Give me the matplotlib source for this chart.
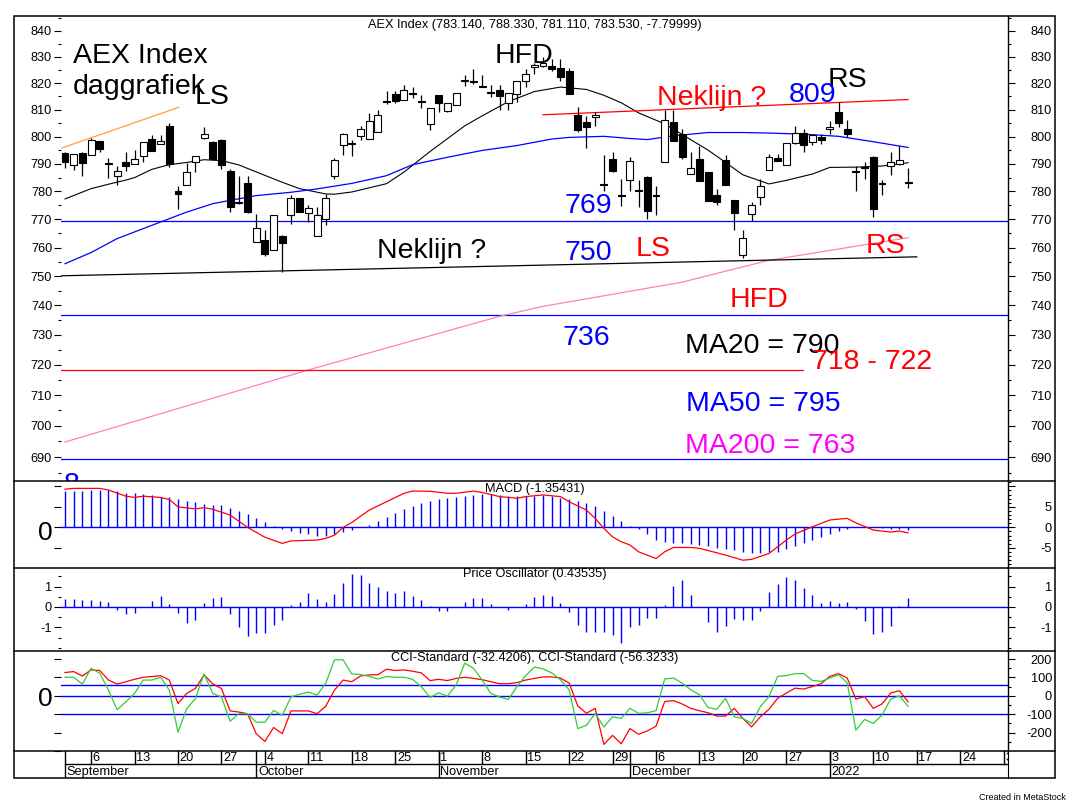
import numpy as np
import pandas as pd
import matplotlib
matplotlib.use("Agg")
import matplotlib.pyplot as plt
from matplotlib.lines import Line2D
from matplotlib.patches import Rectangle
from matplotlib.ticker import NullFormatter

plt.rcParams['font.family'] = ['Liberation Sans', 'DejaVu Sans']

# === 1. Data ===
dates = pd.bdate_range("2021-09-01", "2022-01-14")
future = pd.bdate_range("2022-01-17", "2022-01-31")

opens = [793.8, 789.7, 793.8, 793.3, 798.4, 790.2, 785.7, 790.8, 790.0, 793.0,
         799.1, 797.4, 804.1, 780.3, 782.4, 790.8, 799.4, 798.1, 798.8, 787.5,
         776.3, 783.1, 762.0, 762.6, 759.3, 764.1, 771.6, 777.6, 772.1, 764.1,
         770.0, 785.4, 796.9, 797.3, 800.3, 799.1, 801.6, 812.8, 815.7, 813.6,
         816.3, 813.2, 804.6, 815.4, 809.4, 811.7, 820.8, 820.8, 819.0, 816.5,
         817.3, 812.4, 815.7, 820.9, 826.0, 826.5, 826.5, 825.9, 824.6, 808.0,
         805.5, 807.3, 782.6, 791.8, 778.7, 784.2, 780.5, 785.3, 778.7, 790.5,
         805.5, 800.9, 786.3, 791.8, 787.2, 778.8, 791.5, 777.0, 757.6, 772.0,
         777.9, 787.9, 792.2, 789.4, 797.6, 801.5, 798.1, 799.8, 802.8, 809.0,
         802.8, 787.4, 788.9, 792.4, 782.6, 789.1, 790.0, 783.14]
highs = [794.5, 793.6, 794.5, 799.3, 798.4, 792.3, 789.3, 794.5, 795.2, 798.1,
         800.7, 800.6, 805.0, 781.9, 790.2, 793.0, 803.6, 798.4, 799.0, 788.0,
         785.7, 785.7, 771.8, 766.1, 771.6, 764.6, 778.6, 777.6, 775.0, 774.4,
         779.2, 792.0, 801.3, 798.8, 804.1, 808.6, 809.9, 817.1, 817.1, 819.4,
         818.6, 815.4, 810.8, 815.4, 812.6, 816.1, 822.9, 825.3, 823.0, 819.4,
         819.4, 816.3, 820.9, 825.3, 827.8, 830.0, 829.1, 829.1, 825.6, 811.0,
         807.8, 809.0, 793.3, 794.3, 784.5, 792.4, 784.0, 785.7, 782.1, 809.7,
         809.7, 802.8, 794.3, 796.4, 787.2, 780.9, 793.3, 777.0, 766.1, 776.1,
         784.5, 793.6, 793.6, 797.8, 804.1, 802.8, 800.7, 800.9, 805.9, 813.0,
         806.2, 789.3, 790.5, 792.7, 784.2, 794.3, 796.4, 788.33]
lows = [788.4, 787.9, 785.7, 793.3, 794.3, 784.7, 782.5, 787.5, 790.0, 790.5,
        794.6, 797.4, 788.7, 773.8, 782.4, 787.0, 799.0, 791.5, 788.0, 772.8,
        775.5, 772.4, 762.0, 757.1, 759.3, 751.5, 768.4, 772.6, 769.0, 764.1,
        768.0, 784.6, 793.3, 793.0, 798.8, 799.1, 801.6, 812.1, 812.6, 813.6,
        814.2, 810.6, 802.3, 809.0, 809.0, 811.7, 818.9, 819.5, 818.4, 814.6,
        809.7, 809.9, 813.0, 818.6, 823.4, 826.0, 824.6, 820.9, 815.7, 801.7,
        795.7, 804.1, 780.3, 786.9, 774.8, 780.3, 774.4, 770.0, 771.4, 790.5,
        798.3, 791.8, 786.3, 783.6, 776.5, 775.2, 782.4, 766.1, 756.4, 769.3,
        775.0, 787.9, 790.9, 789.4, 797.2, 794.3, 796.9, 797.2, 800.9, 803.5,
        799.8, 780.3, 784.6, 770.8, 778.8, 786.0, 789.4, 781.11]
closes = [790.5, 793.6, 790.3, 798.8, 795.5, 789.8, 787.5, 789.1, 791.8, 798.1,
          794.6, 798.5, 790.0, 779.2, 786.9, 793.0, 800.9, 791.8, 789.4, 774.4,
          775.8, 772.6, 767.0, 757.7, 771.6, 761.7, 777.6, 772.6, 774.1, 771.6,
          777.8, 791.4, 800.9, 797.7, 802.8, 805.6, 808.0, 813.2, 813.2, 817.3,
          815.9, 812.8, 810.8, 812.4, 812.4, 816.1, 821.2, 820.4, 818.6, 816.3,
          815.0, 816.3, 820.9, 823.4, 826.8, 827.5, 825.5, 822.5, 815.7, 802.6,
          803.5, 808.0, 782.2, 787.5, 778.3, 791.2, 780.1, 773.1, 778.3, 806.2,
          798.3, 792.4, 788.5, 783.6, 776.5, 776.1, 782.4, 772.2, 763.5, 775.2,
          782.1, 792.4, 790.9, 797.8, 801.5, 797.0, 800.7, 798.8, 803.6, 805.0,
          801.0, 787.0, 788.5, 773.8, 783.0, 790.5, 791.5, 783.53]

# moving averages (day index, value)
ma20_idx = [0, 3, 5, 7, 8, 10, 12, 14, 16, 18, 20, 23, 25, 27, 30, 31, 33, 37, 39, 42,
            46, 48, 51, 54, 57, 60, 62, 64, 66, 69, 71, 74, 76, 78, 81, 83, 86, 88, 91, 94, 97]
ma20_val = [777.3, 781.0, 782.6, 784.1, 785.0, 788.0, 789.7, 790.5, 791.5, 791.2,
            789.6, 785.8, 783.3, 781.0, 779.1, 779.0, 779.8, 782.8, 787.0, 794.5,
            804.0, 807.7, 813.0, 816.8, 818.5, 817.6, 815.4, 812.6, 808.8, 804.7,
            800.8, 795.0, 790.5, 786.0, 782.7, 784.0, 786.3, 788.7, 788.8, 789.2, 790.4]
ma50_idx = [0, 3, 6, 10, 14, 17, 19, 22, 26, 29, 31, 33, 37, 40, 44, 48, 52, 56, 58, 62,
            65, 67, 70, 74, 78, 81, 85, 89, 93, 97]
ma50_val = [754.4, 758.3, 763.2, 767.9, 772.6, 775.6, 776.8, 778.5, 779.7, 780.9,
            781.9, 782.9, 785.7, 789.7, 792.4, 794.9, 796.7, 799.1, 799.7, 800.1,
            799.3, 798.9, 800.3, 801.5, 801.5, 801.3, 800.9, 800.1, 798.1, 796.0]
ma200_idx = [0, 28, 50, 55, 71, 81, 97]
ma200_val = [694.8, 718.3, 736.3, 739.7, 748.0, 755.6, 763.5]

# drawn trend lines / levels
orange_line = ([-0.45, 13.1], [795.7, 810.9])
neck_black = ([-0.6, 98.0], [750.2, 756.8])
neck_red = ([55.0, 97.0], [808.1, 813.8])
blue_levels = [769.4, 736.6, 689.4]
red_level = ([-0.5, 84.9], [718.4, 718.4])

macd_hist = [8.85, 8.85, 8.85, 9.1, 9.1, 9.1, 8.85, 8.3, 8.45, 8.1,
             7.9, 7.5, 7.5, 6.9, 6.4, 6.25, 5.7, 5.5, 5.4, 4.6,
             4.0, 3.25, 2.3, 1.3, 0.3, -0.35, -0.8, -1.3, -1.7, -2.0,
             -2.0, -1.7, -1.2, -0.7, 0.1, 0.55, 1.6, 2.6, 3.55, 4.45,
             5.2, 6.0, 6.5, 6.9, 7.2, 7.45, 7.6, 7.9, 8.1, 8.1,
             7.9, 7.6, 7.6, 7.7, 7.7, 7.9, 7.7, 7.1, 6.85, 6.5,
             5.85, 5.2, 4.05, 2.75, 1.6, 0.3, -0.5, -1.6, -3.1, -3.5,
             -3.75, -3.9, -4.1, -4.3, -4.55, -5.0, -5.3, -5.5, -5.95, -6.2,
             -6.35, -5.95, -5.95, -5.3, -4.55, -3.75, -3.1, -2.3, -1.5, -0.8,
             -0.4, 0.05, 0.05, 0.0, -0.05, -0.4, -0.45, -0.65]
macd_idx = [0, 1, 4, 5, 7, 8, 9, 11, 12, 13, 15, 16, 17, 19, 21, 23, 25, 26, 29, 30,
            31, 32, 33, 35, 37, 39, 40, 42, 44, 45, 47, 48, 50, 52, 53, 55, 57, 58, 60, 61,
            62, 63, 64, 65, 66, 68, 69, 70, 72, 73, 75, 76, 78, 79, 81, 83, 84, 86, 88, 90,
            91, 93, 95, 96, 97]
macd_val = [9.3, 9.5, 9.5, 9.1, 7.6, 7.3, 7.6, 7.3, 6.8, 5.0, 4.5, 4.8, 4.4, 3.0, 0.0,
            -2.4, -3.9, -3.3, -3.1, -2.7, -1.9, 0.0, 1.2, 4.2, 6.25, 8.3, 8.85, 8.8, 8.3, 8.3,
            8.85, 8.5, 7.5, 7.1, 7.5, 7.9, 7.5, 6.25, 4.2, 2.2, -0.25, -2.3, -3.5, -4.3, -5.95,
            -7.6, -5.95, -4.9, -4.9, -5.1, -6.2, -6.75, -8.0, -7.8, -6.35, -3.1, -1.6, 0.15,
            1.8, 2.2, 1.1, -0.65, -1.15, -0.9, -1.35]

price_osc = [0.38, 0.38, 0.33, 0.33, 0.28, 0.23, -0.13, -0.37, -0.29, 0.0,
             0.28, 0.52, 0.13, -0.29, -0.78, -0.62, 0.2, 0.44, 0.49, -0.33,
             -0.97, -1.41, -1.27, -1.27, -0.9, -0.62, 0.1, 0.23, 0.7, 0.38,
             0.23, 0.63, 1.17, 1.6, 1.56, 1.15, 0.96, 0.78, 0.7, 0.78,
             0.54, 0.34, 0.05, -0.18, -0.18, 0.0, 0.24, 0.46, 0.46, 0.15,
             0.0, -0.16, 0.0, 0.16, 0.49, 0.57, 0.54, 0.21, -0.23, -0.88,
             -1.25, -1.25, -1.25, -1.37, -1.77, -0.96, -0.88, -0.52, -0.52, 0.1,
             1.02, 1.32, 0.59, 0.0, -0.74, -1.25, -0.93, -0.59, -0.63, -0.63,
             -0.2, 0.73, 1.12, 1.48, 1.32, 0.94, 0.59, 0.21, 0.29, 0.21,
             0.24, -0.11, -0.67, -1.33, -1.25, -0.91, 0.05, 0.435]

cci_red = [127, 132, 108, 141, 138, 86, 64, 77, 90, 101,
           105, 110, 86, -42, 13, 40, 114, 65, 40, -82,
           -88, -97, -206, -248, -172, -206, -82, -82, -82, -97,
           -57, 31, 86, 77, 108, 114, 115, 145, 138, 141,
           134, 125, 83, 90, 83, 95, 101, 95, 88, 77,
           66, 66, 72, 86, 95, 103, 103, 97, 70, -55,
           -95, -68, -264, -215, -261, -178, -209, -191, -165, -31,
           -26, -44, -68, -81, -92, -110, -110, -68, -123, -169,
           -114, -73, -13, 15, 42, 37, 51, 66, 106, 121,
           97, -18, -4, -68, -44, 15, 28, -32.4]
cci_green = [101, 101, 64, 150, 123, 31, -75, -33, 13, 86,
             86, 101, 31, -198, -70, -15, 119, 13, -6, -138,
             -97, -97, -143, -143, -79, -106, -6, 9, 20, 4,
             68, 196, 196, 119, 116, 106, 92, 105, 101, 101,
             90, 50, -9, 17, -2, 59, 178, 150, 86, 13,
             -6, -20, 50, 110, 156, 147, 125, 88, 33, -178,
             -160, -95, -169, -114, -123, -68, -95, -92, -81, 92,
             97, 70, 33, 6, -64, -73, -13, -114, -123, -150,
             -59, -4, 106, 110, 121, 121, 84, 79, 97, 116,
             70, -187, -128, -150, -105, -18, 0, -56.3]
cci_levels = [60, 0, -100]

month_names = ["September", "October", "November", "December", "2022"]
price_ticks = list(range(690, 841, 10))

# === 2. Figure layout (pixel boxes of the MetaStock window) ===
W, H = 1071, 810
fig = plt.figure(figsize=(W / 100, H / 100), dpi=100)


def box(top, bottom, left=61, right=1008):
    return [left / W, 1 - bottom / H, (right - left) / W, (bottom - top) / H]


ax = fig.add_axes(box(16, 481))
ax_macd = fig.add_axes(box(481, 568), sharex=ax)
ax_po = fig.add_axes(box(568, 651), sharex=ax)
ax_cci = fig.add_axes(box(651, 751), sharex=ax)
ax_dt = fig.add_axes(box(751, 778), sharex=ax)

BLUE = "#0000FF"
RED = "#FF0000"
FS = 9.2
BIG = 20.5

# === 3. Price panel ===
x = np.arange(len(closes))
o = np.array(opens)
c = np.array(closes)
up = c >= o
ax.vlines(x, lows, highs, color="black", lw=0.9, zorder=3)
ax.bar(x, np.maximum(np.abs(c - o), 0.15), bottom=np.minimum(o, c), width=0.8,
       color=np.where(up, "white", "black"), edgecolor="black", lw=0.8, zorder=4)

ax.plot(ma20_idx, ma20_val, color="black", lw=0.8, zorder=2)
ax.plot(ma50_idx, ma50_val, color=BLUE, lw=0.9, zorder=2)
ax.plot(ma200_idx, ma200_val, color="#FF80C0", lw=0.9, zorder=2)
ax.plot(*orange_line, color="#FFA040", lw=0.9)
ax.plot(*neck_black, color="black", lw=0.9)
ax.plot(*neck_red, color=RED, lw=0.9)
ax.plot(*red_level, color=RED, lw=0.9)
for lv in blue_levels:
    ax.axhline(lv, color=BLUE, lw=0.9, zorder=1)

ax.set_yscale("log")
ax.set_ylim(682.4, 845.8)

notes = [
    ("AEX Index", 0.92, 827.8, "black"),
    ("daggrafiek", 0.92, 815.9, "black"),
    ("LS", 14.96, 812.1, "black"),
    ("HFD", 49.4, 827.6, "black"),
    ("RS", 87.7, 818.7, "black"),
    ("Neklijn ?", 68.1, 811.8, RED),
    ("809", 83.3, 813.0, BLUE),
    ("769", 57.5, 772.2, BLUE),
    ("750", 57.5, 755.7, BLUE),
    ("Neklijn ?", 35.9, 756.3, "black"),
    ("LS", 65.6, 757.1, RED),
    ("RS", 92.1, 758.3, RED),
    ("HFD", 76.5, 739.6, RED),
    ("736", 57.2, 726.6, BLUE),
    ("MA20 = 790", 71.3, 724.1, "black"),
    ("718 - 722", 85.9, 718.6, RED),
    ("MA50 = 795", 71.5, 704.9, BLUE),
    ("MA200 = 763", 71.3, 691.4, "#FF00FF"),
    ("8", -0.2, 678.9, BLUE),
]
for txt, tx, ty, col in notes:
    ax.text(tx, ty, txt, color=col, fontsize=BIG, ha="left", va="baseline",
            zorder=6, clip_on=True)

# === 4. MACD panel ===
ax_macd.vlines(x, 0, macd_hist, color=BLUE, lw=1.0)
ax_macd.axhline(0, color=BLUE, lw=1.0)
ax_macd.plot(macd_idx, macd_val, color=RED, lw=0.9)
ax_macd.set_ylim(-9.9, 11.3)

# === 5. Price oscillator ===
ax_po.vlines(x, 0, price_osc, color=BLUE, lw=1.0)
ax_po.axhline(0, color=BLUE, lw=1.0)
ax_po.set_ylim(-2.16, 1.91)

# === 6. CCI ===
for lv in cci_levels:
    ax_cci.axhline(lv, color=BLUE, lw=1.0)
ax_cci.plot(x, cci_red, color=RED, lw=0.9)
ax_cci.plot(x, cci_green, color="#33CC33", lw=0.9)
ax_cci.set_ylim(-300, 244)

# === 7. Axes / ticks styling ===
panels = [
    (ax, price_ticks, [str(t) for t in price_ticks], list(range(685, 846, 5)),
     price_ticks, [str(t) for t in price_ticks], list(range(685, 846, 5))),
    (ax_macd, [-5, 0, 5, 10], ["", "", "", ""], [],
     [-5, 0, 5, 10], ["-5", "0", "5", ""], list(range(-9, 12))),
    (ax_po, [-1, 0, 1], ["-1", "0", "1"], [-2, -1.5, -0.5, 0.5, 1.5],
     [-1, 0, 1], ["-1", "0", "1"], [-2, -1.5, -0.5, 0.5, 1.5]),
    (ax_cci, [-300, -200, -100, 0, 100, 200], [""] * 6, [],
     [-200, -100, 0, 100, 200], ["-200", "-100", "0", "100", "200"],
     [-250, -150, -50, 50, 150]),
]
for a, lt, ll, lmin, rt, rl, rmin in panels:
    a2 = a.twinx()
    if a is ax:
        a2.set_yscale("log")
    a2.set_ylim(a.get_ylim())
    for s in a.spines.values():
        s.set_visible(False)
    for name, s in a2.spines.items():
        s.set_visible(name == "right")
    a2.spines["right"].set_linewidth(1.0)
    a.tick_params(axis="x", which="both", bottom=False, labelbottom=False)
    a.set_yticks(lt, ll)
    a.set_yticks(lmin, minor=True)
    a.yaxis.set_minor_formatter(NullFormatter())
    a2.set_yticks(rt, rl)
    a2.set_yticks(rmin, minor=True)
    a2.yaxis.set_minor_formatter(NullFormatter())
    a.tick_params(axis="y", which="major", left=True, right=False, length=5,
                  width=0.8, pad=1.4, labelsize=FS)
    a.tick_params(axis="y", which="minor", left=True, right=False, length=2.5, width=0.8)
    a2.tick_params(axis="y", which="major", right=True, length=5, width=0.8,
                   pad=26.6, labelsize=FS)
    a2.tick_params(axis="y", which="minor", right=True, length=2.5, width=0.8)
    for t in a2.yaxis.get_major_ticks():
        t.label2.set_horizontalalignment("right")

# === 8. Date axis ===
all_days = dates.append(future)
pos = np.arange(len(all_days))
mondays = pos[all_days.weekday == 0]
month_start = pos[np.r_[True, all_days.month[1:] != all_days.month[:-1]]]

ax_dt.set_ylim(0, 1)
for name, s in ax_dt.spines.items():
    s.set_visible(name == "right")
ax_dt.tick_params(axis="both", which="both", left=False, bottom=False,
                  labelleft=False, labelbottom=False)
ax_dt.plot([0, 108.5], [0.52, 0.52], color="black", lw=1.0)
for m in mondays:
    ax_dt.plot([m, m], [0.52, 1], color="black", lw=1.0)
    ax_dt.text(m + 0.2, 0.75, str(all_days[m].day), fontsize=FS, ha="left",
               va="center", clip_on=True)
for m, name in zip(month_start, month_names):
    ax_dt.plot([m, m], [0, 1], color="black", lw=1.0)
    ax_dt.text(m + 0.2, 0.24, name, fontsize=FS, ha="left", va="center", clip_on=True)

ax.set_xlim(-0.46, 108.5)

# === 9. Frame, separators, titles ===
fig.add_artist(Rectangle((14 / W, 1 - 778 / H), (1055 - 14) / W, (778 - 16) / H,
                         transform=fig.transFigure, fill=False, ec="black", lw=1.1))
for yy in [481, 568, 651, 751]:
    fig.add_artist(Line2D([14 / W, 1055 / W], [1 - yy / H] * 2, color="black", lw=1.1,
                          transform=fig.transFigure))

fig.text(534.5 / W, 1 - 25 / H, "AEX Index (783.140, 788.330, 781.110, 783.530, -7.79999)",
         ha="center", va="center", fontsize=FS)
fig.text(534.5 / W, 1 - 489 / H, "MACD (-1.35431)", ha="center", va="center", fontsize=FS)
fig.text(534.5 / W, 1 - 574 / H, "Price Oscillator (0.43535)", ha="center", va="center",
         fontsize=FS)
fig.text(534.5 / W, 1 - 658 / H, "CCI-Standard (-32.4206), CCI-Standard (-56.3233)",
         ha="center", va="center", fontsize=FS)
fig.text(45 / W, 1 - 540 / H, "0", ha="center", va="baseline", fontsize=19)
fig.text(45 / W, 1 - 706 / H, "0", ha="center", va="baseline", fontsize=19)
fig.text(1066 / W, 1 - 797 / H, "Created in MetaStock", ha="right", va="center",
         fontsize=6.5)

fig.savefig("out.png", dpi=100, facecolor="white")
